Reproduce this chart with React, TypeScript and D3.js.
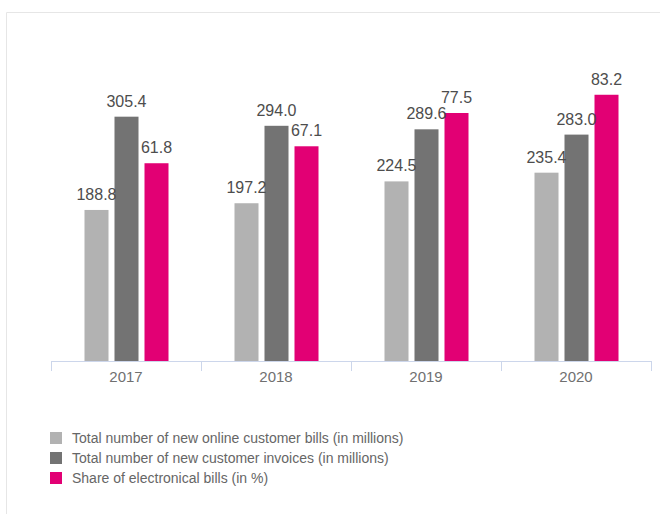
import * as d3 from "d3";

const years = ["2017", "2018", "2019", "2020"];
const onlineBills = [188.8, 197.2, 224.5, 235.4];
const invoices = [305.4, 294.0, 289.6, 283.0];
const electronicShare = [61.8, 67.1, 77.5, 83.2];
const seriesNames = [
  "Total number of new online customer bills (in millions)",
  "Total number of new customer invoices (in millions)",
  "Share of electronical bills (in %)",
];
const colors = ["#b2b2b2", "#737373", "#e20074"];

const W = 660;
const H = 514;
const margin = { top: 41, right: 9, bottom: 153, left: 51 };
const font = "'Liberation Sans', Arial, sans-serif";

export default function App() {
  const plotBottom = H - margin.bottom;
  const x0 = d3.scaleBand<string>().domain(years).range([margin.left, W - margin.right]);
  const x1 = d3.scaleBand<number>().domain([0, 1, 2]).range([0, 84]).paddingInner(0.2);
  const groupOffset = (x0.bandwidth() - 84) / 2 + 0.5;
  // left axis for millions, right axis for percent
  const yLeft = d3.scaleLinear().domain([0, 400]).range([plotBottom, margin.top]);
  const yRight = d3.scaleLinear().domain([0, 100]).range([plotBottom, margin.top]);

  const series = [
    { values: onlineBills, y: yLeft },
    { values: invoices, y: yLeft },
    { values: electronicShare, y: yRight },
  ];

  const ticks = [...years.map((yr) => x0(yr)!), x0.range()[1]];

  return (
    <div style={{ position: "absolute", left: 0, top: 0 }}>
      <svg width={W} height={H} style={{ display: "block", fontFamily: font }}>
        <rect width={W} height={H} fill="#fff" />
        {/* frame */}
        <line x1={6.5} x2={W} y1={12.5} y2={12.5} stroke="#e6e6e6" />
        <line x1={6.5} x2={6.5} y1={12.5} y2={H} stroke="#e6e6e6" />

        {series.map((s, si) =>
          years.map((yr, i) => {
            const bx = x0(yr)! + groupOffset + x1(si)!;
            const top = s.y(s.values[i]);
            return (
              <rect
                key={`b${si}-${yr}`}
                x={bx}
                y={top}
                width={x1.bandwidth()}
                height={plotBottom - top}
                fill={colors[si]}
              />
            );
          })
        )}

        {series.map((s, si) =>
          years.map((yr, i) => {
            const bx = x0(yr)! + groupOffset + x1(si)! + x1.bandwidth() / 2;
            const top = s.y(s.values[i]);
            return (
              <text
                key={`l${si}-${yr}`}
                x={bx}
                y={top - 10}
                textAnchor="middle"
                fontSize={16}
                fill="#4d4d4d"
              >
                {s.values[i].toFixed(1)}
              </text>
            );
          })
        )}

        {/* x axis */}
        <line x1={margin.left} x2={W - margin.right} y1={plotBottom + 0.5} y2={plotBottom + 0.5} stroke="#ccd6eb" />
        {ticks.map((t, i) => (
          <line key={`t${i}`} x1={t + 0.5} x2={t + 0.5} y1={plotBottom} y2={plotBottom + 10} stroke="#ccd6eb" />
        ))}
        {years.map((yr) => (
          <text
            key={`x${yr}`}
            x={x0(yr)! + x0.bandwidth() / 2}
            y={plotBottom + 21}
            textAnchor="middle"
            fontSize={15}
            fill="#707070"
          >
            {yr}
          </text>
        ))}

        {/* legend */}
        {seriesNames.map((name, i) => (
          <g key={`lg${i}`} transform={`translate(50, ${432 + i * 20})`}>
            <rect width={12} height={12} fill={colors[i]} />
            <text x={22} y={11} fontSize={14} fill="#666">
              {name}
            </text>
          </g>
        ))}
      </svg>
    </div>
  );
}
